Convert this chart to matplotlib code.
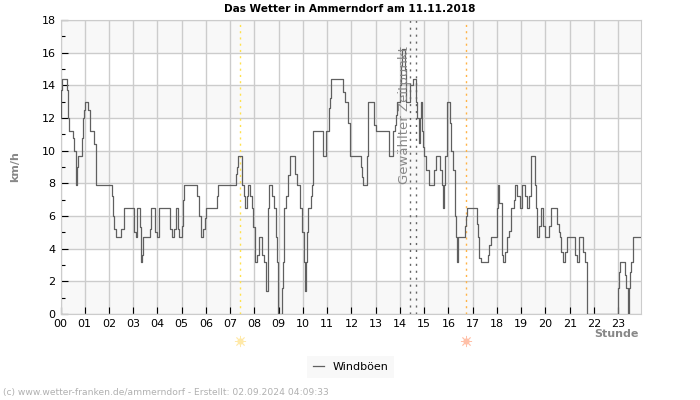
"""Wetter-Diagramm: Windboeen in Ammerndorf am 11.11.2018."""
import matplotlib
matplotlib.use("Agg")
import matplotlib.pyplot as plt
from matplotlib.ticker import MultipleLocator
from matplotlib.transforms import blended_transform_factory

# Stufen: Beginn (Stunde) und Wert (km/h)
hours = [
    0.03, 0.06, 0.10, 0.25, 0.29, 0.33, 0.50, 0.55, 0.62, 0.65, 0.68, 0.72,
    0.87, 0.93, 0.97, 1.00, 1.15, 1.20, 1.22, 1.40, 1.46, 2.11, 2.15, 2.20,
    2.27, 2.50, 2.60, 3.03, 3.10, 3.17, 3.27, 3.30, 3.33, 3.37, 3.42, 3.68,
    3.75, 3.90, 4.00, 4.08, 4.50, 4.58, 4.67, 4.75, 4.83, 4.90, 5.00, 5.04,
    5.08, 5.65, 5.72, 5.80, 5.88, 5.95, 6.00, 6.45, 6.50, 7.22, 7.27, 7.32,
    7.50, 7.55, 7.60, 7.68, 7.73, 7.82, 7.90, 7.95, 8.02, 8.10, 8.17, 8.30,
    8.38, 8.48, 8.55, 8.58, 8.72, 8.80, 8.87, 8.92, 8.96, 9.15, 9.18, 9.21,
    9.23, 9.30, 9.38, 9.47, 9.67, 9.75, 9.88, 9.95, 10.04, 10.10, 10.14,
    10.17, 10.20, 10.35, 10.38, 10.40, 10.43, 10.83, 10.95, 11.08, 11.12,
    11.17, 11.66, 11.72, 11.77, 11.85, 11.94, 12.40, 12.44, 12.46, 12.65,
    12.70, 12.76, 12.92, 13.00, 13.56, 13.64, 13.72, 13.80, 13.85, 13.89,
    14.00, 14.05, 14.10, 14.19, 14.25, 14.35, 14.43, 14.52, 14.67, 14.72,
    14.77, 14.82, 14.85, 14.92, 14.96, 15.00, 15.08, 15.18, 15.42, 15.47,
    15.50, 15.66, 15.72, 15.76, 15.80, 15.85, 15.92, 16.06, 16.12, 16.20,
    16.28, 16.31, 16.34, 16.39, 16.68, 16.72, 16.75, 17.16, 17.20, 17.24,
    17.27, 17.33, 17.64, 17.68, 17.74, 18.01, 18.05, 18.10, 18.19, 18.22,
    18.26, 18.35, 18.41, 18.50, 18.59, 18.70, 18.76, 18.84, 18.93, 19.02,
    19.16, 19.25, 19.33, 19.39, 19.55, 19.60, 19.63, 19.67, 19.75, 19.83,
    19.91, 20.00, 20.16, 20.24, 20.49, 20.54, 20.58, 20.65, 20.73, 20.82,
    20.90, 21.23, 21.31, 21.40, 21.56, 21.64, 21.70, 21.73, 23.00, 23.04,
    23.08, 23.27, 23.33, 23.42, 23.46, 23.50, 23.54, 23.60,
]
gusts = [
    13.7, 14.4, 14.4, 13.7, 12.0, 11.2, 10.8, 10.0, 8.6, 7.9, 9.0, 9.7,
    10.8, 12.0, 12.5, 13.0, 12.5, 11.6, 11.2, 10.4, 7.9, 7.2, 6.0, 5.2,
    4.7, 5.2, 6.5, 5.0, 4.7, 6.5, 5.3, 4.0, 3.2, 3.6, 4.7, 5.2,
    6.5, 5.0, 4.7, 6.5, 5.2, 4.7, 5.2, 6.5, 5.2, 4.7, 5.4, 7.0,
    7.9, 7.2, 6.0, 4.7, 5.2, 5.9, 6.5, 7.2, 7.9, 8.6, 9.0, 9.7,
    7.9, 7.2, 6.5, 7.2, 7.9, 7.2, 6.5, 5.3, 3.2, 3.6, 4.7, 3.6,
    3.2, 1.4, 6.5, 7.9, 7.2, 6.5, 4.7, 3.2, 0.0, 1.6, 3.2, 4.7,
    6.5, 7.2, 8.5, 9.7, 8.6, 7.9, 6.5, 5.0, 3.2, 1.4, 3.2,
    5.0, 6.5, 7.2, 7.9, 9.7, 11.2, 9.7, 11.2, 12.6, 13.2,
    14.4, 13.6, 13.0, 13.0, 11.7, 9.7, 9.0, 8.4, 7.9, 9.7,
    13.0, 13.0, 11.6, 11.2, 9.7, 9.7, 11.2, 11.6, 12.2, 13.0,
    14.0, 15.2, 16.2, 15.0, 13.0, 13.0, 14.0, 14.4, 13.0, 12.0,
    10.5, 12.0, 13.0, 11.2, 10.2, 9.7, 8.8, 7.9, 8.8, 9.2,
    9.7, 8.8, 7.9, 6.5, 7.9, 9.7, 13.0, 11.7, 10.0, 8.8,
    6.0, 4.7, 3.2, 4.7, 5.4, 6.0, 6.5, 5.5, 4.7, 3.9,
    3.4, 3.2, 3.6, 4.2, 4.7, 6.5, 7.9, 6.8, 4.7, 3.6,
    3.2, 3.8, 4.7, 5.1, 6.5, 7.0, 7.9, 7.2, 6.5, 7.9,
    7.2, 6.5, 7.2, 9.7, 7.9, 7.2, 6.5, 4.7, 5.4, 6.5,
    5.4, 4.7, 5.4, 6.5, 5.5, 5.0, 4.7, 3.8, 3.2, 3.8,
    4.7, 3.6, 3.2, 4.7, 3.8, 3.2, 1.6, 0.0, 1.6, 2.6,
    3.2, 2.4, 1.6, 0.0, 1.6, 2.6, 3.2, 4.7,
]
hour_labels = [f"{h:02d}" for h in range(24)]
sun_events = [7.4, 16.72]
selected_times = [14.43, 14.65]

BAND = "#f8f8f8"
GRID = "#cccccc"
LINE = "#606060"
GREY = "#888888"

fig = plt.figure(figsize=(7, 4), dpi=100)
ax = fig.add_axes([60.5 / 700, 1 - 314 / 400, 580 / 700, 294 / 400])

ax.step([0.03] + hours + [23.92], [12.0] + gusts + [4.7], where="post",
        color=LINE, lw=0.9, label="Windböen", zorder=3)

ax.set_xlim(0, 23.92)
ax.set_ylim(0, 18)

# abwechselnde Baender wie im Original
for low in range(0, 18, 4):
    ax.axhspan(low, low + 2, color=BAND, lw=0, zorder=0)

ax.set_xticks(range(24))
ax.set_xticklabels(hour_labels)
ax.yaxis.set_major_locator(MultipleLocator(2))
ax.yaxis.set_minor_locator(MultipleLocator(1))
ax.grid(True, which="major", color=GRID, lw=1, zorder=1)
ax.set_axisbelow(True)
ax.tick_params(axis="both", which="major", direction="in", length=5,
               width=0.8, labelsize=8, color="black", pad=3.5)
ax.tick_params(axis="y", which="minor", direction="in", length=3, width=0.8)
for spine in ax.spines.values():
    spine.set_color(GRID)

ax.axvline(sun_events[0], color="#ffe14d", lw=1, ls=(0, (1.5, 3)), zorder=2)
ax.axvline(sun_events[1], color="#ffb347", lw=1, ls=(0, (1.5, 3)), zorder=2)
for t in selected_times:
    ax.axvline(t, color="#666666", lw=1, ls=(0, (1.5, 3.5)), zorder=2)
ax.text(14.17, 12.2, "Gewählter Zeitpunkt", rotation=90, color=GREY,
        fontsize=9.5, ha="center", va="center", zorder=4)

# Sonnenauf- und -untergang unter der Achse: Scheibe mit Strahlen
trans = blended_transform_factory(ax.transData, fig.transFigure)
sun_y = 1 - 341 / 400
for when, colour in zip(sun_events, ["#ffe9a8", "#ffc0a8"]):
    ax.plot(when, sun_y, transform=trans, clip_on=False, marker=(8, 2, 0),
            ms=8, color=colour, mew=0.6)
    ax.plot(when, sun_y, transform=trans, clip_on=False, marker="o",
            ms=4.5, color=colour, mew=0)

fig.text(349.5 / 700, 1 - 8.5 / 400, "Das Wetter in Ammerndorf am 11.11.2018",
         ha="center", va="center", fontsize=7.6, fontweight="bold")
fig.text(15 / 700, 1 - 167 / 400, "km/h", rotation=90, ha="center",
         va="center", fontsize=8, fontweight="bold", color=GREY)
fig.text(639 / 700, 1 - 334 / 400, "Stunde", ha="right", va="center",
         fontsize=8, fontweight="bold", color=GREY)
fig.text(3 / 700, 1 - 393 / 400,
         "(c) www.wetter-franken.de/ammerndorf - Erstellt: 02.09.2024 04:09:33",
         ha="left", va="center", fontsize=6.6, color="#b0b0b0")

fig.legend(loc="center", bbox_to_anchor=(350.5 / 700, 1 - 367 / 400),
           frameon=True, facecolor=BAND, edgecolor="none", fancybox=False,
           framealpha=1, fontsize=8, handlelength=1.0, handletextpad=0.8,
           borderpad=0.5)

fig.savefig("out.png", dpi=100)
plt.close(fig)
